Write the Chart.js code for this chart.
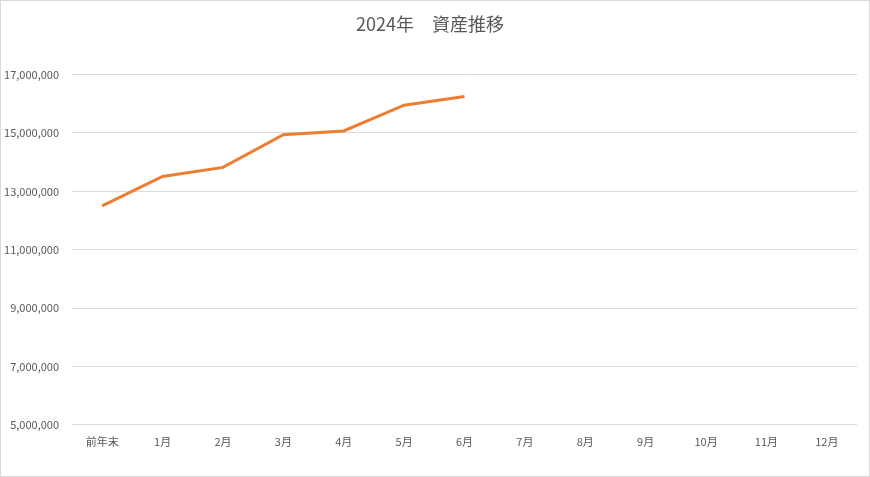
<!DOCTYPE html>
<html>
<head>
<meta charset="utf-8">
<script src="https://cdn.jsdelivr.net/npm/chart.js@4"></script>
<style>
  html, body { margin: 0; padding: 0; background: #fff; }
  #wrap { width: 870px; height: 477px; box-sizing: border-box; border: 1px solid #d9d9d9; }
  canvas { display: block; }
</style>
</head>
<body>
<div id="wrap"><canvas id="myChart" width="868" height="475"></canvas></div>
<script>
const labels = ['前年末', '1月', '2月', '3月', '4月', '5月', '6月', '7月', '8月', '9月', '10月', '11月', '12月'];
const assets = [12500000, 13510000, 13820000, 14940000, 15070000, 15950000, 16250000, null, null, null, null, null, null];
const yMin = 5000000;
const yMax = 17000000;
const yStep = 2000000;

const font = "'Noto Sans CJK JP', 'Noto Sans', sans-serif";

const data = {
  labels: labels,
  datasets: [{
    label: '資産',
    data: assets,
    borderColor: '#ED7D31',
    backgroundColor: '#ED7D31',
    borderWidth: 3,
    pointRadius: 0,
    tension: 0,
    spanGaps: false
  }]
};

const config = {
  type: 'line',
  data: data,
  options: {
    responsive: false,
    animation: false,
    layout: { padding: { left: 2, right: 12, top: 0, bottom: 26 } },
    plugins: {
      legend: { display: false },
      tooltip: { enabled: false },
      title: {
        display: true,
        text: '2024年　資産推移',
        color: '#595959',
        font: { family: font, size: 18, weight: 'normal' },
        padding: { top: 12, bottom: 40 }
      }
    },
    scales: {
      x: {
        offset: true,
        grid: { display: false },
        border: { display: false },
        ticks: {
          color: '#595959',
          font: { family: font, size: 11 },
          padding: 2,
          maxRotation: 0,
          autoSkip: false
        }
      },
      y: {
        min: yMin,
        max: yMax,
        afterFit: (s) => { s.width = 69; },
        grid: { color: '#d9d9d9', drawTicks: false, lineWidth: 1 },
        border: { display: false },
        ticks: {
          stepSize: yStep,
          color: '#595959',
          font: { family: font, size: 11 },
          padding: 13,
          callback: (v) => v.toLocaleString('en-US')
        }
      }
    }
  }
};

const myChart = new Chart(document.getElementById('myChart'), config);
</script>
</body>
</html>
